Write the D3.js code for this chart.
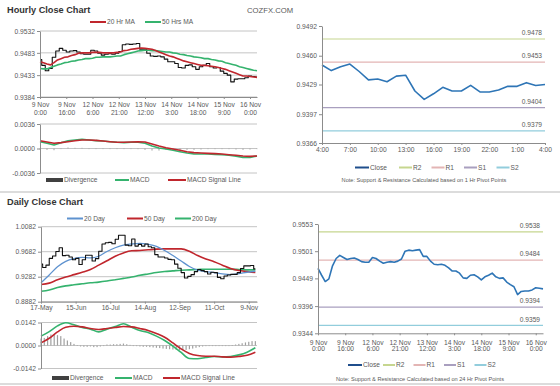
<!DOCTYPE html>
<html lang="en">
<head>
<meta charset="utf-8">
<title>Hourly and Daily Close Charts</title>
<script src="https://d3js.org/d3.v7.min.js"></script>
<style>
  body { margin: 0; background: #fff; }
  svg { display: block; font-family: "Liberation Sans", Arial, sans-serif; }
  .title { font-size: 9.2px; font-weight: bold; fill: #333; }
  .brand { font-size: 7.7px; fill: #595959; }
  .axis { font-family: "Liberation Sans", Arial, sans-serif; }
  .axis .tick text { font-size: 6.7px; fill: #595959; }
  .axis path, .axis line { stroke: #8c8c8c; }
  .grid line { stroke: #c4c4c4; }
  .lbl { font-size: 6.6px; fill: #595959; }
  .note { font-size: 5.6px; fill: #595959; }
</style>
</head>
<body>
<svg width="560" height="386"></svg>
<script>
// ---- hourly (9 Nov - 16 Nov), one value every 2 bars ----
const hourlyLabels = ["9 Nov 0:00", "9 Nov 16:00", "12 Nov 6:00", "12 Nov 21:00", "13 Nov 12:00",
  "14 Nov 3:00", "14 Nov 18:00", "15 Nov 9:00", "16 Nov 0:00"];
const hourlyTickIdx = [0, 15, 30, 45, 60, 75, 90, 105, 120];
const hourIdx = d3.range(0, 125, 2);
const hourlyClose = [0.9468, 0.9455, 0.9443, 0.9448, 0.9473, 0.9487, 0.9493, 0.9489, 0.9485, 0.9487,
  0.9488, 0.9485, 0.9481, 0.9480, 0.9480, 0.9489, 0.9487, 0.9482, 0.9478, 0.9480,
  0.9481, 0.9480, 0.9482, 0.9486, 0.9501, 0.9503, 0.9502, 0.9503, 0.9504, 0.9491,
  0.9491, 0.9482, 0.9476, 0.9475, 0.9476, 0.9474, 0.9469, 0.9463, 0.9463, 0.9459,
  0.9450, 0.9449, 0.9455, 0.9456, 0.9452, 0.9446, 0.9452, 0.9455, 0.9459, 0.9452,
  0.9449, 0.9450, 0.9442, 0.9437, 0.9433, 0.9418, 0.9424, 0.9425, 0.9425, 0.9427,
  0.9431, 0.9430, 0.9429];
const hourlyMA20 = [0.9463, 0.9461, 0.9458, 0.9456, 0.9461, 0.9467, 0.9470, 0.9473, 0.9474, 0.9477,
  0.9479, 0.9482, 0.9483, 0.9483, 0.9483, 0.9484, 0.9484, 0.9484, 0.9483, 0.9483,
  0.9483, 0.9483, 0.9484, 0.9485, 0.9488, 0.9489, 0.9491, 0.9492, 0.9493, 0.9494,
  0.9493, 0.9492, 0.9491, 0.9488, 0.9485, 0.9482, 0.9479, 0.9476, 0.9474, 0.9471,
  0.9468, 0.9465, 0.9463, 0.9461, 0.9459, 0.9457, 0.9455, 0.9455, 0.9454, 0.9453,
  0.9452, 0.9450, 0.9448, 0.9446, 0.9443, 0.9440, 0.9437, 0.9434, 0.9431, 0.9431,
  0.9430, 0.9429, 0.9428];
const hourlyMA50 = [0.9448, 0.9447, 0.9447, 0.9450, 0.9453, 0.9456, 0.9458, 0.9461, 0.9462, 0.9464,
  0.9465, 0.9467, 0.9468, 0.9470, 0.9470, 0.9471, 0.9473, 0.9473, 0.9474, 0.9474,
  0.9474, 0.9475, 0.9476, 0.9476, 0.9479, 0.9481, 0.9483, 0.9485, 0.9487, 0.9488,
  0.9489, 0.9489, 0.9488, 0.9488, 0.9487, 0.9486, 0.9485, 0.9485, 0.9483, 0.9482,
  0.9480, 0.9479, 0.9477, 0.9476, 0.9474, 0.9473, 0.9472, 0.9470, 0.9470, 0.9468,
  0.9467, 0.9465, 0.9464, 0.9461, 0.9459, 0.9457, 0.9455, 0.9452, 0.9450, 0.9448,
  0.9446, 0.9444, 0.9443];
// hourly MACD, one value every 4 bars
const hourMacdIdx = d3.range(0, 125, 4);
const hourlyMacd = [0.0010, 0.00076, 0.00051, 0.00086, 0.00115, 0.00125, 0.00135, 0.00125, 0.00115, 0.0011,
  0.0010, 0.00091, 0.00086, 0.00091, 0.00091, 0.00076, 0.00037, 0.00007, -0.00007, -0.00027,
  -0.00047, -0.00066, -0.00081, -0.00081, -0.00081, -0.00086, -0.00091, -0.0010, -0.00115, -0.0013,
  -0.0013, -0.0011];
const hourlySignal = [0.00115, 0.00096, 0.00076, 0.00086, 0.0010, 0.00115, 0.00125, 0.00125, 0.0012, 0.0011,
  0.0010, 0.00091, 0.00091, 0.00096, 0.0010, 0.00096, 0.00066, 0.00037, 0.00012, -0.00007,
  -0.00027, -0.00047, -0.00061, -0.00066, -0.00071, -0.00076, -0.00081, -0.00091, -0.0010, -0.0011,
  -0.00115, -0.0011];
const hourlyDiv = [-0.00015, -0.0002, -0.00025, 0, 0.00015, 0.0001, 0.0001, 0, -0.00005, 0,
  0, 0, -0.00005, -0.00005, -0.0001, -0.0002, -0.0003, -0.0003, -0.0002, -0.0002,
  -0.0002, -0.0002, -0.0002, -0.00015, -0.0001, -0.0001, -0.0001, -0.0001, -0.00015, -0.0002,
  -0.00015, 0];

// ---- last 24 hours vs 1 hr pivots ----
const pivotHourLabels = ["4:00", "7:00", "10:00", "13:00", "16:00", "19:00", "22:00", "1:00", "4:00"];
const pivotHourTicks = [0, 3, 6, 9, 12, 15, 18, 21, 24];
const lastDayClose = [0.9450, 0.9444, 0.9448, 0.9451, 0.9443, 0.9434, 0.9435, 0.9432, 0.9438, 0.9439,
  0.9422, 0.9413, 0.9419, 0.9426, 0.9422, 0.9422, 0.9428, 0.9421, 0.9421, 0.9423,
  0.9427, 0.9427, 0.9431, 0.9428, 0.9429];
const levelNames = ["R2", "R1", "S1", "S2"];
const hourPivots = [0.9478, 0.9453, 0.9404, 0.9379];
const dayPivots = [0.9538, 0.9484, 0.9394, 0.9359];

// ---- daily (17 May - 16 Nov), one close every 2 trading days ----
const dailyLabels = ["17-May", "15-Jun", "16-Jul", "14-Aug", "12-Sep", "11-Oct", "9-Nov"];
const dailyTickIdx = [0, 21, 42, 63, 84, 105, 126];
const dayIdx = d3.range(0, 131, 2);
const dailyClose = [0.9484, 0.9429, 0.9467, 0.9576, 0.9614, 0.9685, 0.9745, 0.9620, 0.9625, 0.9598,
  0.9554, 0.9576, 0.9478, 0.9554, 0.9625, 0.9625, 0.9533, 0.9571, 0.9690, 0.9805,
  0.9826, 0.9832, 0.9810, 0.9881, 0.9946, 0.9946, 0.9788, 0.9777, 0.9886, 0.9772,
  0.9799, 0.9772, 0.9805, 0.9761, 0.9745, 0.9636, 0.9598, 0.9598, 0.9582, 0.9560,
  0.9554, 0.9484, 0.9418, 0.9348, 0.9261, 0.9288, 0.9315, 0.9364, 0.9397, 0.9380,
  0.9364, 0.9326, 0.9353, 0.9348, 0.9271, 0.9250, 0.9293, 0.9310, 0.9320, 0.9320,
  0.9348, 0.9413, 0.9456, 0.9456, 0.9462, 0.9407];
const dailyDiv = [0.0043, 0.0047, 0.0058, 0.0068, 0.0068, 0.0064, 0.0058, 0.0043, 0.0031, 0.0021,
  0.0010, 0.0002, -0.0006, -0.0008, -0.0008, -0.0006, -0.0010, -0.0010, -0.0006, 0,
  0.0006, 0.0006, 0.0008, 0.0008, 0.0010, 0.0012, 0.0008, 0.0004, 0, -0.0004,
  -0.0006, -0.0008, -0.0008, -0.0010, -0.0012, -0.0014, -0.0016, -0.0019, -0.0021, -0.0023,
  -0.0025, -0.0027, -0.0029, -0.0029, -0.0027, -0.0023, -0.0019, -0.0014, -0.0010, -0.0006,
  -0.0004, -0.0002, 0, 0, 0, -0.0002, -0.0002, 0, 0.0002, 0.0006,
  0.0010, 0.0014, 0.0019, 0.0023, 0.0027, 0.0027];
// moving averages and MACD, one value every 5 trading days
const dayMAIdx = d3.range(0, 131, 5);
const dailyMA20 = [0.9184, 0.9310, 0.9440, 0.9527, 0.9571, 0.9592, 0.9582, 0.9609, 0.9685, 0.9745,
  0.9788, 0.9805, 0.9815, 0.9799, 0.9767, 0.9701, 0.9620, 0.9533, 0.9446, 0.9386,
  0.9364, 0.9348, 0.9326, 0.9315, 0.9331, 0.9353, 0.9369];
const dailyMA50 = [0.9157, 0.9179, 0.9233, 0.9277, 0.9315, 0.9353, 0.9397, 0.9467, 0.9538, 0.9609,
  0.9663, 0.9696, 0.9701, 0.9712, 0.9723, 0.9728, 0.9728, 0.9728, 0.9690, 0.9620,
  0.9565, 0.9522, 0.9467, 0.9413, 0.9380, 0.9364, 0.9348];
const dailyMA200 = [0.9048, 0.9070, 0.9108, 0.9135, 0.9152, 0.9168, 0.9184, 0.9195, 0.9212, 0.9233,
  0.9255, 0.9277, 0.9304, 0.9326, 0.9348, 0.9364, 0.9375, 0.9386, 0.9391, 0.9397,
  0.9402, 0.9402, 0.9402, 0.9402, 0.9397, 0.9391, 0.9391];
const dailyMacd = [0.0058, 0.0086, 0.0121, 0.0140, 0.0128, 0.0111, 0.0101, 0.0084, 0.0101, 0.0117,
  0.0134, 0.0113, 0.0093, 0.0080, 0.0058, 0.0031, -0.0004, -0.0043, -0.0080, -0.0082,
  -0.0074, -0.0068, -0.0070, -0.0068, -0.0058, -0.0041, -0.0014];
const dailySignal = [0.0016, 0.0045, 0.0084, 0.0113, 0.0119, 0.0115, 0.0105, 0.0099, 0.0105, 0.0111,
  0.0117, 0.0115, 0.0105, 0.0093, 0.0074, 0.0051, 0.0016, -0.0021, -0.0049, -0.0062,
  -0.0066, -0.0066, -0.0070, -0.0072, -0.0068, -0.0060, -0.0041];

const RED = "#c0262d", GREEN = "#35b36e", BLUE20 = "#5e92cf", CLOSE = "#2e75b6";
const levelColors = ["#c6d68f", "#e3b5b4", "#a99fbf", "#92cddc"];

const svg = d3.select("svg");
const fmt = d => d.toFixed(4);

function grid(y, ticks, x0, x1) {
  svg.append("g").attr("class", "grid").selectAll("line").data(ticks).join("line")
    .attr("x1", x0).attr("x2", x1)
    .attr("y1", d => y(d)).attr("y2", d => y(d));
}

function leftAxis(y, x, ticks) {
  svg.append("g").attr("class", "axis").attr("transform", "translate(" + x + ",0)")
    .call(d3.axisLeft(y).tickValues(ticks).tickSize(3).tickSizeOuter(0).tickPadding(2).tickFormat(fmt));
}

// two-line labels when gap is given
function bottomAxis(x, y, ticks, labels, gap, first) {
  const g = svg.append("g").attr("class", "axis").attr("transform", "translate(0," + y + ")")
    .call(d3.axisBottom(x).tickValues(ticks).tickSize(2).tickSizeOuter(0).tickPadding(2)
      .tickFormat((d, i) => labels[i]));
  if (gap) {
    g.selectAll(".tick text").each(function (d, i) {
      const p = labels[i].split(" ");
      const t = d3.select(this).text(null).attr("dy", null).attr("y", null);
      t.append("tspan").attr("x", 0).attr("y", first).text(p[0] + " " + p[1]);
      t.append("tspan").attr("x", 0).attr("y", first + gap).text(p[2]);
    });
  }
}

function drawLine(xs, ys, x, y, color, width, curve) {
  svg.append("path").datum(ys.map((v, i) => [xs[i], v]))
    .attr("fill", "none").attr("stroke", color).attr("stroke-width", width)
    .attr("stroke-linejoin", "round")
    .attr("d", d3.line().x(d => x(d[0])).y(d => y(d[1])).curve(curve || d3.curveLinear));
}

function bars(xs, ys, x, y, w) {
  svg.append("g").selectAll("rect").data(ys).join("rect")
    .attr("x", (d, i) => x(xs[i]) - w / 2).attr("width", w)
    .attr("y", d => Math.min(y(d), y(0)))
    .attr("height", d => Math.max(0.6, Math.abs(y(d) - y(0))))
    .attr("fill", "#a0a0a0");
}

function legendLine(x1, x2, y, color, text) {
  svg.append("line").attr("x1", x1).attr("x2", x2).attr("y1", y).attr("y2", y)
    .attr("stroke", color).attr("stroke-width", 2);
  svg.append("text").attr("class", "lbl").attr("x", x2 + 1).attr("y", y + 2.3).text(text);
}

function legendBox(x1, x2, y, text) {
  svg.append("rect").attr("x", x1).attr("y", y - 2).attr("width", x2 - x1).attr("height", 4)
    .attr("fill", "#404040");
  svg.append("text").attr("class", "lbl").attr("x", x2 + 1).attr("y", y + 2.3).text(text);
}

function levels(vals, x, y, x0, x1, labelX) {
  vals.forEach((v, i) => {
    svg.append("line").attr("x1", x0).attr("x2", x1).attr("y1", y(v)).attr("y2", y(v))
      .attr("stroke", levelColors[i]).attr("stroke-width", 1.2);
    svg.append("text").attr("class", "lbl").attr("x", labelX).attr("y", y(v) - 3.8)
      .attr("text-anchor", "end").text(v.toFixed(4));
  });
}

// separators and titles
[192, 384].forEach(yy => svg.append("line").attr("x1", 0).attr("x2", 560)
  .attr("y1", yy).attr("y2", yy).attr("stroke", "#d0d0d0").attr("stroke-width", 1.5));
svg.append("text").attr("class", "title").attr("x", 7).attr("y", 12.8).text("Hourly Close Chart");
svg.append("text").attr("class", "title").attr("x", 7).attr("y", 205).text("Daily Close Chart");
svg.append("text").attr("class", "brand").attr("x", 247).attr("y", 12.8).text("COZFX.COM");

// ---- hourly close chart ----
const xH = d3.scaleLinear([0, 124], [40, 257]);
const yH = d3.scaleLinear([0.9384, 0.9532], [97, 31]);
const hTicks = [0.9384, 0.9433, 0.9483, 0.9532];
grid(yH, hTicks, 40, 257);
drawLine(hourIdx, hourlyClose, xH, yH, "#111", 1.1, d3.curveStep);
drawLine(hourIdx, hourlyMA50, xH, yH, GREEN, 1.6);
drawLine(hourIdx, hourlyMA20, xH, yH, RED, 1.6);
leftAxis(yH, 40, hTicks);
bottomAxis(xH, 97, hourlyTickIdx, hourlyLabels, 7.6, 10.3);
legendLine(90, 106, 22, RED, "20 Hr MA");
legendLine(145, 161, 22, GREEN, "50 Hrs MA");

const yHM = d3.scaleLinear([-0.0036, 0.0036], [173, 124]);
const hmTicks = [-0.0036, 0, 0.0036];
grid(yHM, hmTicks, 40, 257);
bars(hourMacdIdx, hourlyDiv, xH, yHM, 1);
drawLine(hourMacdIdx, hourlyMacd, xH, yHM, GREEN, 1.6);
drawLine(hourMacdIdx, hourlySignal, xH, yHM, RED, 1.6);
leftAxis(yHM, 40, hmTicks);
legendBox(46, 63, 180, "Divergence");
legendLine(115, 129, 180, GREEN, "MACD");
legendLine(168, 186, 180, RED, "MACD Signal Line");

// ---- last 24 hours with 1 hr pivots ----
const xP = d3.scaleLinear([0, 24], [322, 545]);
const yP = d3.scaleLinear([0.9366, 0.9492], [143, 26]);
levels(hourPivots, xP, yP, 322, 545, 542);
drawLine(d3.range(lastDayClose.length), lastDayClose, xP, yP, CLOSE, 1.6);
leftAxis(yP, 322, [0.9366, 0.9397, 0.9429, 0.9460, 0.9492]);
bottomAxis(xP, 143, pivotHourTicks, pivotHourLabels);
legendLine(355, 369, 167.5, "#1f4e8c", "Close");
levelNames.forEach((n, i) => legendLine(399 + i * 32.5, 412 + i * 32.5, 167.5, levelColors[i], n));
svg.append("text").attr("class", "note").attr("x", 424).attr("y", 182).attr("text-anchor", "middle")
  .text("Note: Support & Resistance Calculated based on 1 Hr Pivot Points");

// ---- daily close chart ----
const xD = d3.scaleLinear([0, 131], [41, 257]);
const yD = d3.scaleLinear([0.8882, 1.0082], [301.7, 226.7]);
const dTicks = [0.8882, 0.9282, 0.9682, 1.0082];
grid(yD, dTicks, 41, 257);
drawLine(dayMAIdx, dailyMA200, xD, yD, GREEN, 1.6, d3.curveMonotoneX);
drawLine(dayMAIdx, dailyMA50, xD, yD, RED, 1.6, d3.curveMonotoneX);
drawLine(dayMAIdx, dailyMA20, xD, yD, BLUE20, 1.3, d3.curveMonotoneX);
drawLine(dayIdx, dailyClose, xD, yD, "#111", 1.1, d3.curveStep);
leftAxis(yD, 41, dTicks);
bottomAxis(xD, 301.7, dailyTickIdx, dailyLabels);
legendLine(67, 83, 218.5, BLUE20, "20 Day");
legendLine(127, 143, 218.5, RED, "50 Day");
legendLine(175, 191, 218.5, GREEN, "200 Day");

const yDM = d3.scaleLinear([-0.0142, 0.0142], [368.5, 322.5]);
const dmTicks = [-0.0142, 0, 0.0142];
grid(yDM, dmTicks, 41, 257);
bars(dayIdx, dailyDiv, xD, yDM, 1.2);
drawLine(dayMAIdx, dailyMacd, xD, yDM, GREEN, 1.6, d3.curveMonotoneX);
drawLine(dayMAIdx, dailySignal, xD, yDM, RED, 1.6, d3.curveMonotoneX);
leftAxis(yDM, 41, dmTicks);
legendBox(52, 69, 378, "Divergence");
legendLine(115, 132, 378, GREEN, "MACD");
legendLine(163, 180, 378, RED, "MACD Signal Line");

// ---- hourly close with 24 hr pivots ----
const xB = d3.scaleLinear([0, 124], [318, 543]);
const yB = d3.scaleLinear([0.9344, 0.9553], [333.3, 224]);
levels(dayPivots, xB, yB, 318, 543, 540);
drawLine(hourIdx, hourlyClose, xB, yB, CLOSE, 1.6);
leftAxis(yB, 318, [0.9344, 0.9396, 0.9449, 0.9501, 0.9553]);
bottomAxis(xB, 333.3, hourlyTickIdx, hourlyLabels, 6.2, 11.3);
legendLine(348, 362, 365, "#1f4e8c", "Close");
levelNames.forEach((n, i) => legendLine(383 + i * 30.5, 395 + i * 30.5, 365, levelColors[i], n));
svg.append("text").attr("class", "note").attr("x", 420).attr("y", 381).attr("text-anchor", "middle")
  .text("Note: Support & Resistance Calculated based on 24 Hr Pivot Points");
</script>
</body>
</html>
